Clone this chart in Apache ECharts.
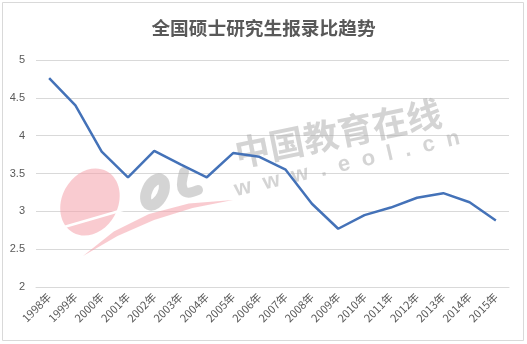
<!DOCTYPE html>
<html>
<head>
<meta charset="utf-8">
<script src="https://cdn.jsdelivr.net/npm/echarts@6/dist/echarts.min.js"></script>
<style>
html,body{margin:0;padding:0;background:#fff;}
#c{width:527px;height:344px;}
</style>
</head>
<body>
<div id="c"></div>
<script>
const titleText = '全国硕士研究生报录比趋势';
const years = ['1998年','1999年','2000年','2001年','2002年','2003年','2004年','2005年','2006年','2007年','2008年','2009年','2010年','2011年','2012年','2013年','2014年','2015年'];
const ratios = [4.76, 4.40, 3.79, 3.45, 3.80, 3.62, 3.45, 3.77, 3.72, 3.55, 3.10, 2.77, 2.95, 3.05, 3.18, 3.24, 3.12, 2.88];
const yMin = 2, yMax = 5, yStep = 0.5;

const chart = echarts.init(document.getElementById('c'), null, {renderer:'canvas'});
const font = '"Noto Sans CJK SC", "Liberation Sans", sans-serif';
const pink = 'rgba(244,160,170,0.55)';
const grey = 'rgba(170,170,170,0.5)';
chart.setOption({
  animation: false,
  backgroundColor: '#fff',
  title: {
    text: titleText, left: 'center', top: 14,
    textStyle: {fontSize: 18.7, fontWeight: 'bold', color: '#595959', fontFamily: font}
  },
  graphic: [
    {type:'rect', z:0, silent:true, shape:{x:2.5,y:2.5,width:521,height:338}, style:{fill:'none', stroke:'#d9d9d9', lineWidth:1}},
    {type:'ellipse', z:1, silent:true, shape:{cx:90, cy:202, rx:28, ry:35}, rotation:-0.5, originX:90, originY:202, style:{fill:pink}},
    {type:'line', z:1, silent:true, shape:{x1:40,y1:234,x2:140,y2:205}, style:{stroke:'#fff', lineWidth:2.5}},
    {type:'polygon', z:1, silent:true, shape:{points:[[83,256],[113.8,231.5],[149,214],[188.8,203.5],[233,200],[192.5,208],[154,220],[117.5,236]]}, style:{fill:pink}},
    {type:'ellipse', z:1, silent:true, shape:{cx:155, cy:192, rx:8, ry:14}, rotation:-0.45, originX:155, originY:192, style:{fill:'none', stroke:grey, lineWidth:11}},
    {type:'bezierCurve', z:1, silent:true, shape:{x1:184,y1:172,x2:198,y2:190,cpx1:176,cpy1:200}, style:{fill:'none', stroke:grey, lineWidth:10, lineCap:'round'}},
    {type:'text', z:1, silent:true, x:338, y:133, rotation:0.2,
      style:{text:'中国教育在线', fontSize:35, fontWeight:'bold', fontFamily:font, fill:grey, align:'center', verticalAlign:'middle'}},
    {type:'text', z:1, silent:true, x:347, y:164, rotation:0.23,
      style:{text:'w  w  w  .  e  o  l  .  c  n', fontSize:22, fontWeight:'bold', fontFamily:'"Liberation Sans", sans-serif', fill:grey, align:'center', verticalAlign:'middle'}}
  ],
  grid: {left: 36, right: 18, top: 60, bottom: 57, containLabel: false},
  xAxis: {
    type: 'category', data: years, boundaryGap: true,
    axisLine: {show: true, lineStyle: {color: '#d9d9d9', width: 1}},
    axisTick: {show: false},
    axisLabel: {rotate: 45, interval: 0, margin: 8, fontSize: 11, color: '#595959', fontFamily: font}
  },
  yAxis: {
    type: 'value', min: yMin, max: yMax, interval: yStep,
    axisLine: {show: false}, axisTick: {show: false},
    splitLine: {lineStyle: {color: '#d9d9d9', width: 1}},
    axisLabel: {margin: 11, fontSize: 11, color: '#595959', fontFamily: '"Liberation Sans", sans-serif'}
  },
  series: [{
    type: 'line', data: ratios, z: 3,
    symbol: 'none', smooth: false,
    lineStyle: {color: '#4472b8', width: 2.5}
  }]
});
</script>
</body>
</html>
